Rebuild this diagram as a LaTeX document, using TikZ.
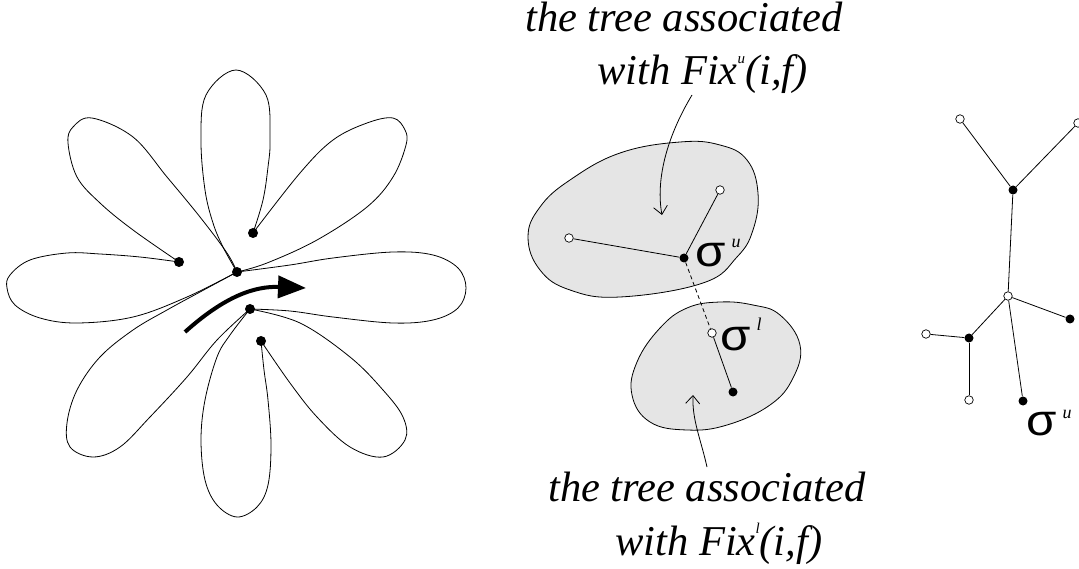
\documentclass[tikz,border=0pt]{standalone}
\usepackage{fontspec}
\setmainfont{Liberation Serif}
\newfontfamily\sigfont{Liberation Sans}
\usetikzlibrary{arrows.meta}

\tikzset{
  bdot/.style={circle, fill=black, inner sep=0pt, minimum size=9pt},
  wdot/.style={circle, draw=black, fill=white, line width=0.7pt, inner sep=0pt, minimum size=8.5pt},
  petal/.style={line width=0.8pt},
  blob/.style={draw, fill=black!10, line width=0.8pt},
  caption/.style={anchor=base west, inner sep=0pt, font=\fontsize{42.5}{50}\selectfont\itshape},
  siglabel/.style={anchor=base west, inner sep=0pt},
  pointer/.style={line width=0.8pt, -{Straight Barb[length=8pt,width=14pt]}}
}
\newcommand{\sigmark}[2]{\scalebox{1.12}[1]{\sigfont\fontsize{44}{44}\selectfont σ}\hspace{6pt}\raisebox{#2}{\fontsize{18}{18}\selectfont\itshape #1}}
\newcommand{\supr}[1]{\raisebox{0.5em}{\fontsize{15}{15}\selectfont #1}}

\begin{document}
\begin{tikzpicture}[x=1pt, y=-1pt]
    \useasboundingbox (0,0) rectangle (1079,569);

    % Flower: vertices of the fat graph
    \coordinate (A) at (179,262);
    \coordinate (B) at (253,233);
    \coordinate (C) at (237,272);
    \coordinate (D) at (250,309);
    \coordinate (E) at (261,341);

    % Petals
    \draw[petal] plot[smooth, tension=0.6] coordinates {(A) (133,230) (100,203) (77,177) (68,143) (73,127) (92,118) (133,137) (167,177) (200,217) (227,253) (C)};
    \draw[petal] plot[smooth, tension=0.6] coordinates {(C) (223,247) (213,223) (205,190) (201,140) (206,95) (236,70) (266,95) (270,140) (268,167) (263,200) (B)};
    \draw[petal] plot[smooth, tension=0.6] coordinates {(B) (300,173) (333,140) (367,123) (393,118) (405,130) (406,145) (393,177) (367,207) (317,240) (267,263) (C)};
    \draw[petal] plot[smooth, tension=0.6] coordinates {(C) (290,265) (333,258) (393,252) (433,255) (458,268) (466,288) (458,308) (433,320) (393,323) (333,317) (290,311) (D)};
    \draw[petal] plot[smooth, tension=0.6] coordinates {(A) (140,257) (100,254) (67,253) (30,260) (10,275) (7,288) (15,305) (40,318) (77,323) (133,317) (187,297) (C)};
    \draw[petal] plot[smooth, tension=0.6] coordinates {(C) (200,292) (167,310) (133,330) (100,357) (77,390) (67,423) (70,447) (93,457) (120,447) (150,417) (187,377) (217,340) (D)};
    \draw[petal] plot[smooth, tension=0.6] coordinates {(D) (230,335) (217,357) (205,400) (201,440) (205,480) (217,505) (237,517) (257,507) (268,485) (271,445) (268,400) (264,370) (E)};
    \draw[petal] plot[smooth, tension=0.6] coordinates {(D) (300,323) (350,357) (383,390) (403,417) (405,440) (383,457) (350,447) (317,417) (290,383) (E)};

    \foreach \v in {A,B,C,D,E}
        \node[bdot, minimum size=10pt] (dot\v) at (\v) {};

    % Direction of travel
    \coordinate (arrstart) at (185,332);
    \coordinate (arrend) at (306,288);
    \draw[line width=4pt, -{Triangle[length=28pt,width=22pt]}] (arrstart) .. controls (225,296) and (255,286) .. (arrend);

    % Upper tree region
    \draw[blob] plot[smooth cycle, tension=0.7] coordinates {(680,142) (720,145) (747,160) (758,193) (753,230) (737,257) (703,283) (620,297) (570,290) (540,270) (528,237) (540,207) (570,180) (620,153)};
    % Lower tree region
    \draw[blob] plot[smooth cycle, tension=0.7] coordinates {(720,302) (753,305) (780,315) (800,345) (793,378) (770,405) (727,425) (687,430) (650,422) (632,395) (637,362) (660,328) (687,308)};

    \node[wdot] (ua) at (569,238) {};
    \node[wdot] (ub) at (720,190) {};
    \node[bdot] (su) at (684,258) {};
    \node[wdot] (sl) at (712,333) {};
    \node[bdot] (lb) at (733,392) {};
    \draw[petal] (ua) -- (su);
    \draw[petal] (ub) -- (su);
    \draw[petal] (sl) -- (lb);
    \draw[petal, dashed, dash pattern=on 4pt off 3pt] (su) -- (sl);

    \node[siglabel] (labsu) at (695,267) {\sigmark{u}{19pt}};
    \node[siglabel] (labsl) at (720,350) {\sigmark{l}{20pt}};

    % Captions
    \node[caption] (capu1) at (525,32) {the tree associated};
    \node[caption] (capu2) at (597,85) {with Fix\supr{u}(i,f)};
    \node[caption] (capl1) at (548,501) {the tree associated};
    \node[caption] (capl2) at (615,555) {with Fix\supr{l}(i,f)};

    \coordinate (ptu) at (692,95);
    \coordinate (ptl) at (707,467);
    \draw[pointer] (ptu) .. controls (665,140) and (656,182) .. (662,215);
    \draw[pointer] (ptl) .. controls (701,440) and (692,420) .. (693,395);

    % Right tree
    \node[wdot] (r1) at (960,119) {};
    \node[wdot] (r2) at (1078,123) {};
    \node[bdot] (r3) at (1013,190) {};
    \node[wdot] (r4) at (1008,296) {};
    \node[bdot] (r5) at (1070,319) {};
    \node[bdot] (r6) at (969,338) {};
    \node[wdot] (r7) at (926,334) {};
    \node[wdot] (r8) at (969,400) {};
    \node[bdot] (r9) at (1023,401) {};
    \foreach \a/\b in {r1/r3, r2/r3, r3/r4, r4/r5, r4/r6, r4/r9, r6/r7, r6/r8}
        \draw[petal] (\a) -- (\b);

    \node[siglabel] (labr) at (1026,435) {\sigmark{u}{17pt}};
\end{tikzpicture}
\end{document}
